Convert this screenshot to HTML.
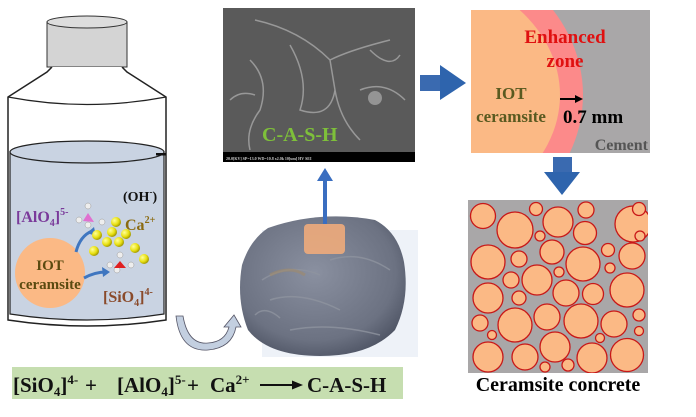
<!DOCTYPE html>
<html><head><meta charset="utf-8"><style>
html,body{margin:0;padding:0;background:#fff;width:696px;height:417px;overflow:hidden}
svg{display:block}
text{font-family:"Liberation Serif",serif;font-weight:bold}
</style></head><body>
<svg width="696" height="417" viewBox="0 0 696 417" xmlns="http://www.w3.org/2000/svg">
<defs>
<clipPath id="box1"><rect x="471" y="10" width="179" height="143"/></clipPath>
<clipPath id="box2"><rect x="468" y="200" width="180" height="173"/></clipPath>
<radialGradient id="ball" cx="0.45" cy="0.4" r="0.65"><stop offset="0" stop-color="#8a90a0"/><stop offset="0.75" stop-color="#6c7282"/><stop offset="1" stop-color="#4e5464"/></radialGradient>
<radialGradient id="ca" cx="0.35" cy="0.35" r="0.7"><stop offset="0" stop-color="#ffff9a"/><stop offset="0.6" stop-color="#e8e010"/><stop offset="1" stop-color="#9a9000"/></radialGradient>
</defs>
<!-- bottle -->
<rect x="47" y="22" width="80" height="45" fill="#d4d4d4" stroke="#333" stroke-width="1"/>
<ellipse cx="87" cy="22" rx="40" ry="6" fill="#ddd" stroke="#333"/>
<path d="M52 67 L47 72 L8 97 L8 320 Q87 332 166 320 L166 97 L127 72 L122 67" fill="#fff" stroke="#222" stroke-width="1.5"/>
<path d="M8 97 Q87 112 166 97" fill="none" stroke="#222" stroke-width="1.2"/>
<path d="M10 152 L10 314 Q87 326 164 314 L164 152 Z" fill="#c9d3e2" stroke="#222" stroke-width="1.2"/>
<ellipse cx="87" cy="152" rx="77" ry="11" fill="#c9d3e2" stroke="#222" stroke-width="1.2"/>
<rect x="156" y="153" width="10" height="2.5" fill="#111"/>
<text x="123" y="201" font-size="14" fill="#111">(OH<tspan font-size="9" dy="-6">-</tspan><tspan dy="6">)</tspan></text>
<text x="16" y="222" font-size="16" fill="#7a3a9a">[AlO<tspan font-size="10" dy="4">4</tspan><tspan dy="-4">]</tspan><tspan font-size="10" dy="-7">5-</tspan></text>
<text x="125" y="230" font-size="16" fill="#8a6a10">Ca<tspan font-size="10" dy="-7">2+</tspan></text>
<text x="103" y="302" font-size="16" fill="#8a4a2a">[SiO<tspan font-size="10" dy="4">4</tspan><tspan dy="-4">]</tspan><tspan font-size="10" dy="-7">4-</tspan></text>
<circle cx="50" cy="273" r="35" fill="#fbb985"/>
<text x="50" y="270" font-size="15" fill="#5a4a10" text-anchor="middle">IOT</text>
<text x="50" y="289" font-size="15" fill="#5a4a10" text-anchor="middle">ceramsite</text>
<path d="M76 252 Q80 236 92 231" fill="none" stroke="#3f76c0" stroke-width="3"/>
<polygon points="94,227 96,236 87,233" fill="#3f76c0"/>
<path d="M84 278 Q95 272 106 272" fill="none" stroke="#3f76c0" stroke-width="3"/>
<polygon points="110,272 102,267 103,277" fill="#3f76c0"/>
<g fill="#eee" stroke="#999" stroke-width="0.5">
<circle cx="88" cy="206" r="3"/><circle cx="79" cy="220" r="3"/><circle cx="102" cy="222" r="3"/><circle cx="88" cy="225" r="3"/>
<circle cx="120" cy="255" r="3"/><circle cx="110" cy="265" r="3"/><circle cx="131" cy="265" r="3"/><circle cx="117" cy="270" r="3"/>
</g>
<polygon points="88,213 83,221 94,222" fill="#e070d0"/>
<polygon points="120,261 114,268 126,268" fill="#e02020"/>
<g fill="url(#ca)">
<circle cx="116" cy="222" r="5"/><circle cx="97" cy="235" r="5"/><circle cx="112" cy="232" r="5"/><circle cx="126" cy="234" r="5"/>
<circle cx="107" cy="242" r="5"/><circle cx="119" cy="242" r="5"/><circle cx="94" cy="251" r="5"/><circle cx="135" cy="248" r="5"/><circle cx="144" cy="259" r="5"/>
</g>
<!-- formula -->
<rect x="12" y="367" width="391" height="32" fill="#c6deb0"/>
<g font-size="21" fill="#111">
<text x="13" y="392">[SiO<tspan font-size="13" dy="4">4</tspan><tspan dy="-4">]</tspan><tspan font-size="13" dy="-8">4-</tspan></text>
<text x="85" y="392">+</text>
<text x="117" y="392">[AlO<tspan font-size="13" dy="4">4</tspan><tspan dy="-4">]</tspan><tspan font-size="13" dy="-8">5-</tspan></text>
<text x="187" y="392">+</text>
<text x="210" y="392">Ca<tspan font-size="13" dy="-8">2+</tspan></text>
<text x="307" y="392">C-A-S-H</text>
</g>
<line x1="260" y1="385" x2="294" y2="385" stroke="#111" stroke-width="2"/>
<polygon points="303,385 292,380.5 292,389.5" fill="#111"/>
<!-- SEM -->
<rect x="223" y="8" width="192" height="154" fill="#5a5a5a"/>
<g fill="none" stroke="#a8a8a8" stroke-width="1.5" opacity="0.8">
<path d="M255 20 Q300 30 330 60 Q350 50 390 40 M330 60 L335 90 Q340 120 360 140 M250 60 Q270 80 260 110 Q245 130 250 150 M290 45 Q310 80 300 110 Q330 120 335 90 M360 90 Q385 80 405 100 M370 50 Q390 70 400 55 M230 100 Q240 90 255 95"/>
</g>
<circle cx="375" cy="98" r="7" fill="#bbb" opacity="0.6"/>
<rect x="223" y="152" width="192" height="10" fill="#000"/>
<text x="262" y="141" font-size="20" fill="#7ec03a">C-A-S-H</text>
<text x="226" y="160" font-size="4" fill="#ccc" font-family="Liberation Sans">20.0[KV]  SP=13.0  WD=10.8  x2.0k   10[um]   HV   SEI</text>
<!-- right arrow -->
<rect x="420" y="75" width="20" height="16" fill="#3a6ab0"/>
<polygon points="440,65 466,83 440,100" fill="#2e64ad"/>
<!-- ball -->
<rect x="262" y="230" width="156" height="127" fill="#eef2f8"/>
<path d="M268 228 Q320 210 375 220 Q398 232 404 262 Q410 300 395 330 Q370 356 320 356 Q268 356 248 330 Q236 300 242 265 Q250 240 268 228 Z" fill="url(#ball)"/>
<g stroke="#8e949f" stroke-width="1.5" fill="none" opacity="0.8">
<path d="M262 280 Q290 262 320 275 M270 300 Q300 290 340 310 M290 330 Q330 322 380 335 M330 260 Q360 250 390 270 M255 315 Q265 305 280 318"/>
</g>
<path d="M270 275 Q290 265 305 275" stroke="#a08a6a" stroke-width="3" fill="none" opacity="0.6"/>
<rect x="304" y="224" width="41" height="30" rx="4" fill="#e9a97c" opacity="0.95"/>
<line x1="325" y1="224" x2="325" y2="180" stroke="#3a6ec0" stroke-width="4"/>
<polygon points="325,168 317,181 333,181" fill="#3a6ec0"/>
<!-- curved arrow -->
<path d="M176 316 Q180 352 208 350 Q232 348 236 327 L241 327 L234 315 L224 327 L229 327 Q225 342 208 343 Q188 345 183 316 Z" fill="#c3cfe0" stroke="#556" stroke-width="0.8"/>
<!-- zone box -->
<g clip-path="url(#box1)">
<rect x="471" y="10" width="179" height="143" fill="#a9a7a8"/>
<ellipse cx="400" cy="95" rx="183" ry="155" fill="#fc8a8a"/>
<ellipse cx="400" cy="95" rx="160" ry="128" fill="#fbb985"/>
</g>
<text x="565" y="43" font-size="19" fill="#e01010" text-anchor="middle">Enhanced</text>
<text x="565" y="67" font-size="19" fill="#e01010" text-anchor="middle">zone</text>
<text x="511" y="99" font-size="17" fill="#5a5a20" text-anchor="middle">IOT</text>
<text x="511" y="122" font-size="17" fill="#5a5a20" text-anchor="middle">ceramsite</text>
<line x1="560" y1="99" x2="577" y2="99" stroke="#000" stroke-width="2"/>
<polygon points="583,99 575,95 575,103" fill="#000"/>
<text x="563" y="123" font-size="19" fill="#000">0.7 mm</text>
<text x="648" y="150" font-size="16" fill="#555" text-anchor="end">Cement</text>
<!-- down arrow -->
<rect x="553" y="157" width="19" height="16" fill="#3a6ab0"/>
<polygon points="544,172 580,172 562,195" fill="#2e64ad"/>
<!-- circles -->
<g clip-path="url(#box2)">
<rect x="468" y="200" width="180" height="173" fill="#a9a7a8"/>
<g fill="#fbb985" stroke="#c81818" stroke-width="1.3">
<circle cx="483" cy="216" r="12.5"/><circle cx="515" cy="230" r="18"/><circle cx="536" cy="209" r="6.5"/><circle cx="558" cy="222" r="15"/><circle cx="586" cy="210" r="8"/><circle cx="633" cy="224" r="18"/><circle cx="639" cy="209" r="6.5"/><circle cx="540" cy="236" r="5"/><circle cx="585" cy="233" r="11.5"/><circle cx="640" cy="236" r="5"/>
<circle cx="488" cy="262" r="17"/><circle cx="519" cy="259" r="8"/><circle cx="552" cy="252" r="12"/><circle cx="583" cy="264" r="17"/><circle cx="608" cy="250" r="6.5"/><circle cx="632" cy="256" r="13"/><circle cx="610" cy="268" r="5"/>
<circle cx="511" cy="280" r="8"/><circle cx="537" cy="280" r="15"/><circle cx="559" cy="272" r="5"/><circle cx="627" cy="290" r="17"/><circle cx="488" cy="298" r="15"/><circle cx="519" cy="298" r="7"/><circle cx="566" cy="293" r="13"/><circle cx="593" cy="294" r="10.5"/>
<circle cx="480" cy="323" r="8"/><circle cx="515" cy="325" r="17"/><circle cx="547" cy="317" r="13"/><circle cx="581" cy="321" r="17"/><circle cx="614" cy="324" r="13"/><circle cx="639" cy="315" r="6"/><circle cx="639" cy="331" r="4.5"/><circle cx="492" cy="335" r="4.5"/><circle cx="600" cy="338" r="4.5"/>
<circle cx="488" cy="357" r="15"/><circle cx="525" cy="357" r="13"/><circle cx="555" cy="347" r="15"/><circle cx="592" cy="358" r="15"/><circle cx="627" cy="355" r="16.5"/><circle cx="545" cy="367" r="5"/><circle cx="568" cy="365" r="6"/>
</g>
</g>
<text x="558" y="391" font-size="20" fill="#000" text-anchor="middle">Ceramsite concrete</text>
</svg>
</body></html>
